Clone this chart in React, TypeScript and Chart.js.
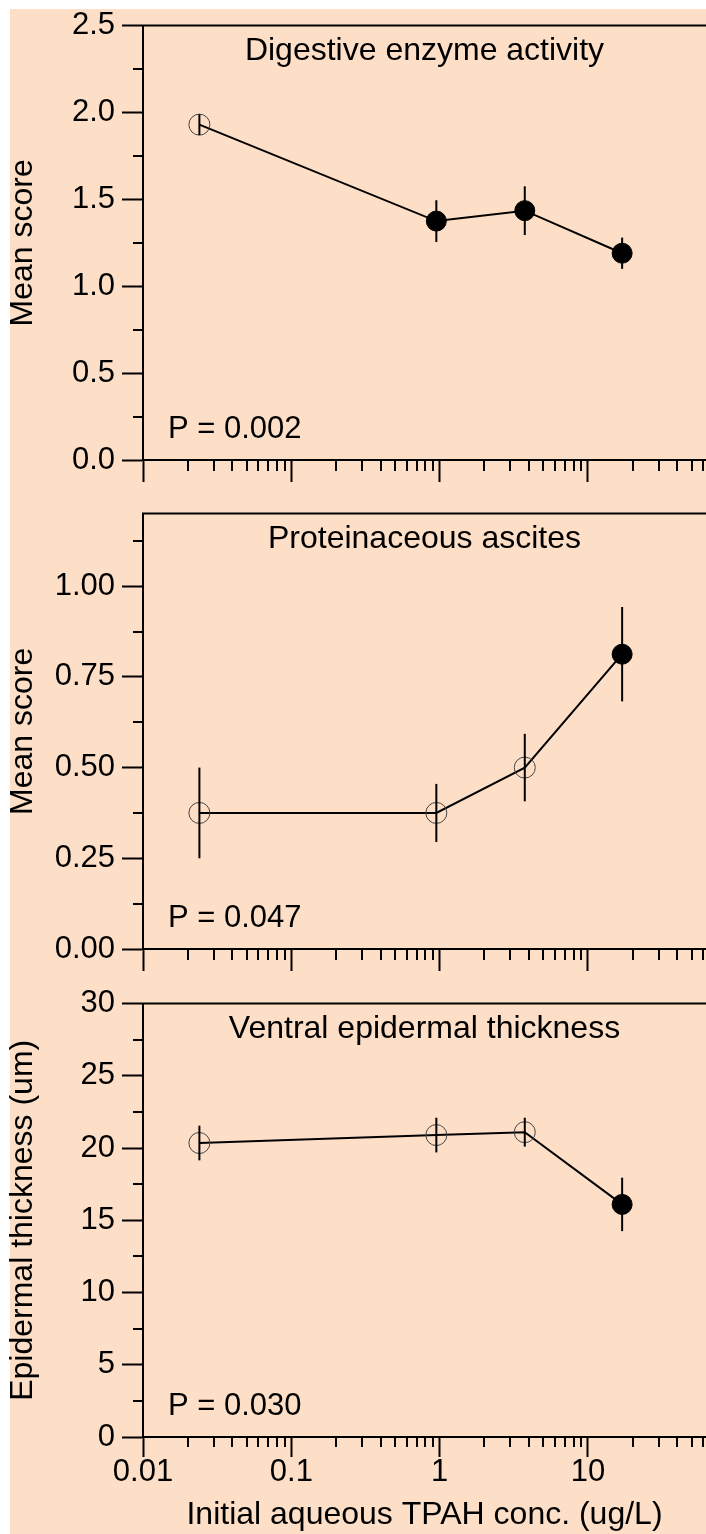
import React, { useEffect, useRef } from 'react';
import { Chart, registerables } from 'chart.js';

Chart.register(...registerables);

// ---- data ----
const concentrations = [0.024, 0.95, 3.75, 17];

const digestiveMeans = [1.93, 1.375, 1.435, 1.19];
const digestiveErrors = [0.06, 0.12, 0.14, 0.09];
const digestiveFilled = [false, true, true, true];

const ascitesMeans = [0.375, 0.375, 0.5, 0.8125];
const ascitesErrors = [0.125, 0.08, 0.093, 0.13];
const ascitesFilled = [false, false, false, true];

const epidermalMeans = [20.35, 20.9, 21.1, 16.1];
const epidermalErrors = [1.2, 1.2, 1.0, 1.85];
const epidermalFilled = [false, false, false, true];

const xMajorTicks = [0.01, 0.1, 1, 10];
const xMinorTicks = [
  0.02, 0.03, 0.04, 0.05, 0.06, 0.07, 0.08, 0.09,
  0.2, 0.3, 0.4, 0.5, 0.6, 0.7, 0.8, 0.9,
  2, 3, 4, 5, 6, 7, 8, 9,
  20, 30, 40, 50, 60,
];

const digestiveYTicks = [0, 0.5, 1, 1.5, 2, 2.5];
const digestiveYMinor = [0.25, 0.75, 1.25, 1.75, 2.25];
const ascitesYTicks = [0, 0.25, 0.5, 0.75, 1];
const ascitesYMinor = [0.125, 0.375, 0.625, 0.875, 1.125];
const epidermalYTicks = [0, 5, 10, 15, 20, 25, 30];
const epidermalYMinor = [2.5, 7.5, 12.5, 17.5, 22.5, 27.5];

const FONT = '"Liberation Sans", Arial, Helvetica, sans-serif';
const BG = 'rgb(253, 222, 199)';

type PanelProps = {
  top: number;
  height: number;
  xAxisHeight: number;
  majorTickX: number;
  minorTickX: number;
  title: string;
  pText: string;
  yTitle: string;
  means: number[];
  errors: number[];
  filled: boolean[];
  yMin: number;
  yMax: number;
  yTicks: number[];
  yMinor: number[];
  decimals: number;
  showXLabels: boolean;
};

function Panel(p: PanelProps) {
  const ref = useRef<HTMLCanvasElement>(null);
  useEffect(() => {
    if (!ref.current) return;
    const decor = {
      id: 'decor',
      afterDraw(chart: any) {
        const { ctx, chartArea, scales } = chart;
        const xs = scales.x;
        const ys = scales.y;
        ctx.save();
        ctx.strokeStyle = '#000';
        ctx.lineWidth = 2;
        // top border
        ctx.beginPath();
        ctx.moveTo(chartArea.left - 1, chartArea.top);
        ctx.lineTo(chartArea.right, chartArea.top);
        ctx.stroke();
        // minor x ticks
        for (const v of xMinorTicks) {
          const px = Math.round(xs.getPixelForValue(v));
          if (px > chartArea.right) continue;
          ctx.beginPath();
          ctx.moveTo(px, chartArea.bottom);
          ctx.lineTo(px, chartArea.bottom + p.minorTickX);
          ctx.stroke();
        }
        // minor y ticks
        for (const v of p.yMinor) {
          const py = Math.round(ys.getPixelForValue(v));
          ctx.beginPath();
          ctx.moveTo(chartArea.left - 10, py);
          ctx.lineTo(chartArea.left, py);
          ctx.stroke();
        }
        // error bars
        for (let i = 0; i < concentrations.length; i++) {
          const px = xs.getPixelForValue(concentrations[i]);
          const y1 = ys.getPixelForValue(p.means[i] + p.errors[i]);
          const y2 = ys.getPixelForValue(p.means[i] - p.errors[i]);
          ctx.beginPath();
          ctx.moveTo(px, y1);
          ctx.lineTo(px, y2);
          ctx.stroke();
        }
        // texts
        ctx.fillStyle = '#000';
        ctx.font = `32px ${FONT}`;
        ctx.textBaseline = 'alphabetic';
        ctx.textAlign = 'center';
        ctx.fillText(p.title, (chartArea.left + chartArea.right) / 2, chartArea.top + 34);
        ctx.font = `31px ${FONT}`;
        ctx.textAlign = 'left';
        ctx.fillText(p.pText, 168, chartArea.bottom - 22);
        ctx.restore();
      },
    };

    const chart = new Chart(ref.current, {
      type: 'line',
      data: {
        datasets: [
          {
            data: concentrations.map((c, i) => ({ x: c, y: p.means[i] })),
            borderColor: '#000',
            borderWidth: 2,
            pointRadius: p.filled.map((f) => (f ? 10 : 10.5)),
            pointBorderWidth: 1,
            pointBackgroundColor: p.filled.map((f) => (f ? '#000' : 'rgba(0,0,0,0)')),
            pointBorderColor: p.filled.map((f) => (f ? '#000' : '#444')),
            tension: 0,
            clip: false as any,
          },
        ],
      },
      options: {
        animation: false,
        responsive: false,
        maintainAspectRatio: false,
        events: [],
        layout: { autoPadding: false, padding: { top: 20, left: 0, right: 0, bottom: 0 } },
        plugins: { legend: { display: false }, tooltip: { enabled: false }, title: { display: false } },
        scales: {
          x: {
            type: 'logarithmic',
            min: 0.01,
            max: 62.5,
            afterBuildTicks: (s: any) => {
              s.ticks = xMajorTicks.map((v) => ({ value: v, major: true }));
            },
            afterFit: (s: any) => {
              s.height = p.xAxisHeight;
            },
            border: { display: true, color: '#000', width: 2 },
            grid: {
              display: true,
              drawOnChartArea: false,
              drawTicks: true,
              tickLength: p.majorTickX,
              tickWidth: 2,
              tickColor: '#000',
            },
            ticks: {
              display: p.showXLabels,
              autoSkip: false,
              maxRotation: 0,
              minRotation: 0,
              padding: 0,
              color: '#000',
              font: { family: FONT, size: 31, lineHeight: 1 },
              callback: (v: any) => String(v),
            },
            title: {
              display: p.showXLabels,
              text: 'Initial aqueous TPAH conc. (ug/L)',
              color: '#000',
              font: { family: FONT, size: 32, lineHeight: 1.2 },
              padding: { top: 0, bottom: 0 },
            },
          },
          y: {
            type: 'linear',
            min: p.yMin,
            max: p.yMax,
            afterBuildTicks: (s: any) => {
              s.ticks = p.yTicks.map((v) => ({ value: v }));
            },
            afterFit: (s: any) => {
              s.width = 143;
            },
            border: { display: true, color: '#000', width: 2 },
            grid: {
              display: true,
              drawOnChartArea: false,
              drawTicks: true,
              tickLength: 21,
              tickWidth: 2,
              tickColor: '#000',
            },
            ticks: {
              padding: 7,
              color: '#000',
              font: { family: FONT, size: 31 },
              callback: (v: any) => Number(v).toFixed(p.decimals),
            },
            title: {
              display: true,
              text: p.yTitle,
              color: '#000',
              font: { family: FONT, size: 32, lineHeight: 1.2 },
              padding: { top: 4, bottom: 0 },
            },
          },
        },
      },
      plugins: [decor],
    } as any);
    return () => chart.destroy();
  }, []);
  return (
    <canvas
      ref={ref}
      width={706}
      height={p.height}
      style={{ position: 'absolute', left: 0, top: p.top, width: 706, height: p.height }}
    />
  );
}

export default function App() {
  return (
    <div style={{ position: 'absolute', left: 0, top: 0, width: 706, height: 1534, overflow: 'hidden', background: '#fff' }}>
      <div style={{ position: 'absolute', left: 10, top: 9, width: 696, height: 1525, background: BG }} />
      <Panel
        top={0}
        height={500}
        xAxisHeight={40}
        majorTickX={22}
        minorTickX={11}
        title="Digestive enzyme activity"
        pText="P = 0.002"
        yTitle="Mean score"
        means={digestiveMeans}
        errors={digestiveErrors}
        filled={digestiveFilled}
        yMin={0}
        yMax={2.5}
        yTicks={digestiveYTicks}
        yMinor={digestiveYMinor}
        decimals={1}
        showXLabels={false}
      />
      <Panel
        top={488}
        height={501}
        xAxisHeight={40}
        majorTickX={22}
        minorTickX={11}
        title="Proteinaceous ascites"
        pText="P = 0.047"
        yTitle="Mean score"
        means={ascitesMeans}
        errors={ascitesErrors}
        filled={ascitesFilled}
        yMin={0}
        yMax={1.2}
        yTicks={ascitesYTicks}
        yMinor={ascitesYMinor}
        decimals={2}
        showXLabels={false}
      />
      <Panel
        top={978}
        height={556}
        xAxisHeight={97}
        majorTickX={20}
        minorTickX={10}
        title="Ventral epidermal thickness"
        pText="P = 0.030"
        yTitle="Epidermal thickness (um)"
        means={epidermalMeans}
        errors={epidermalErrors}
        filled={epidermalFilled}
        yMin={0}
        yMax={30}
        yTicks={epidermalYTicks}
        yMinor={epidermalYMinor}
        decimals={0}
        showXLabels={true}
      />
    </div>
  );
}
